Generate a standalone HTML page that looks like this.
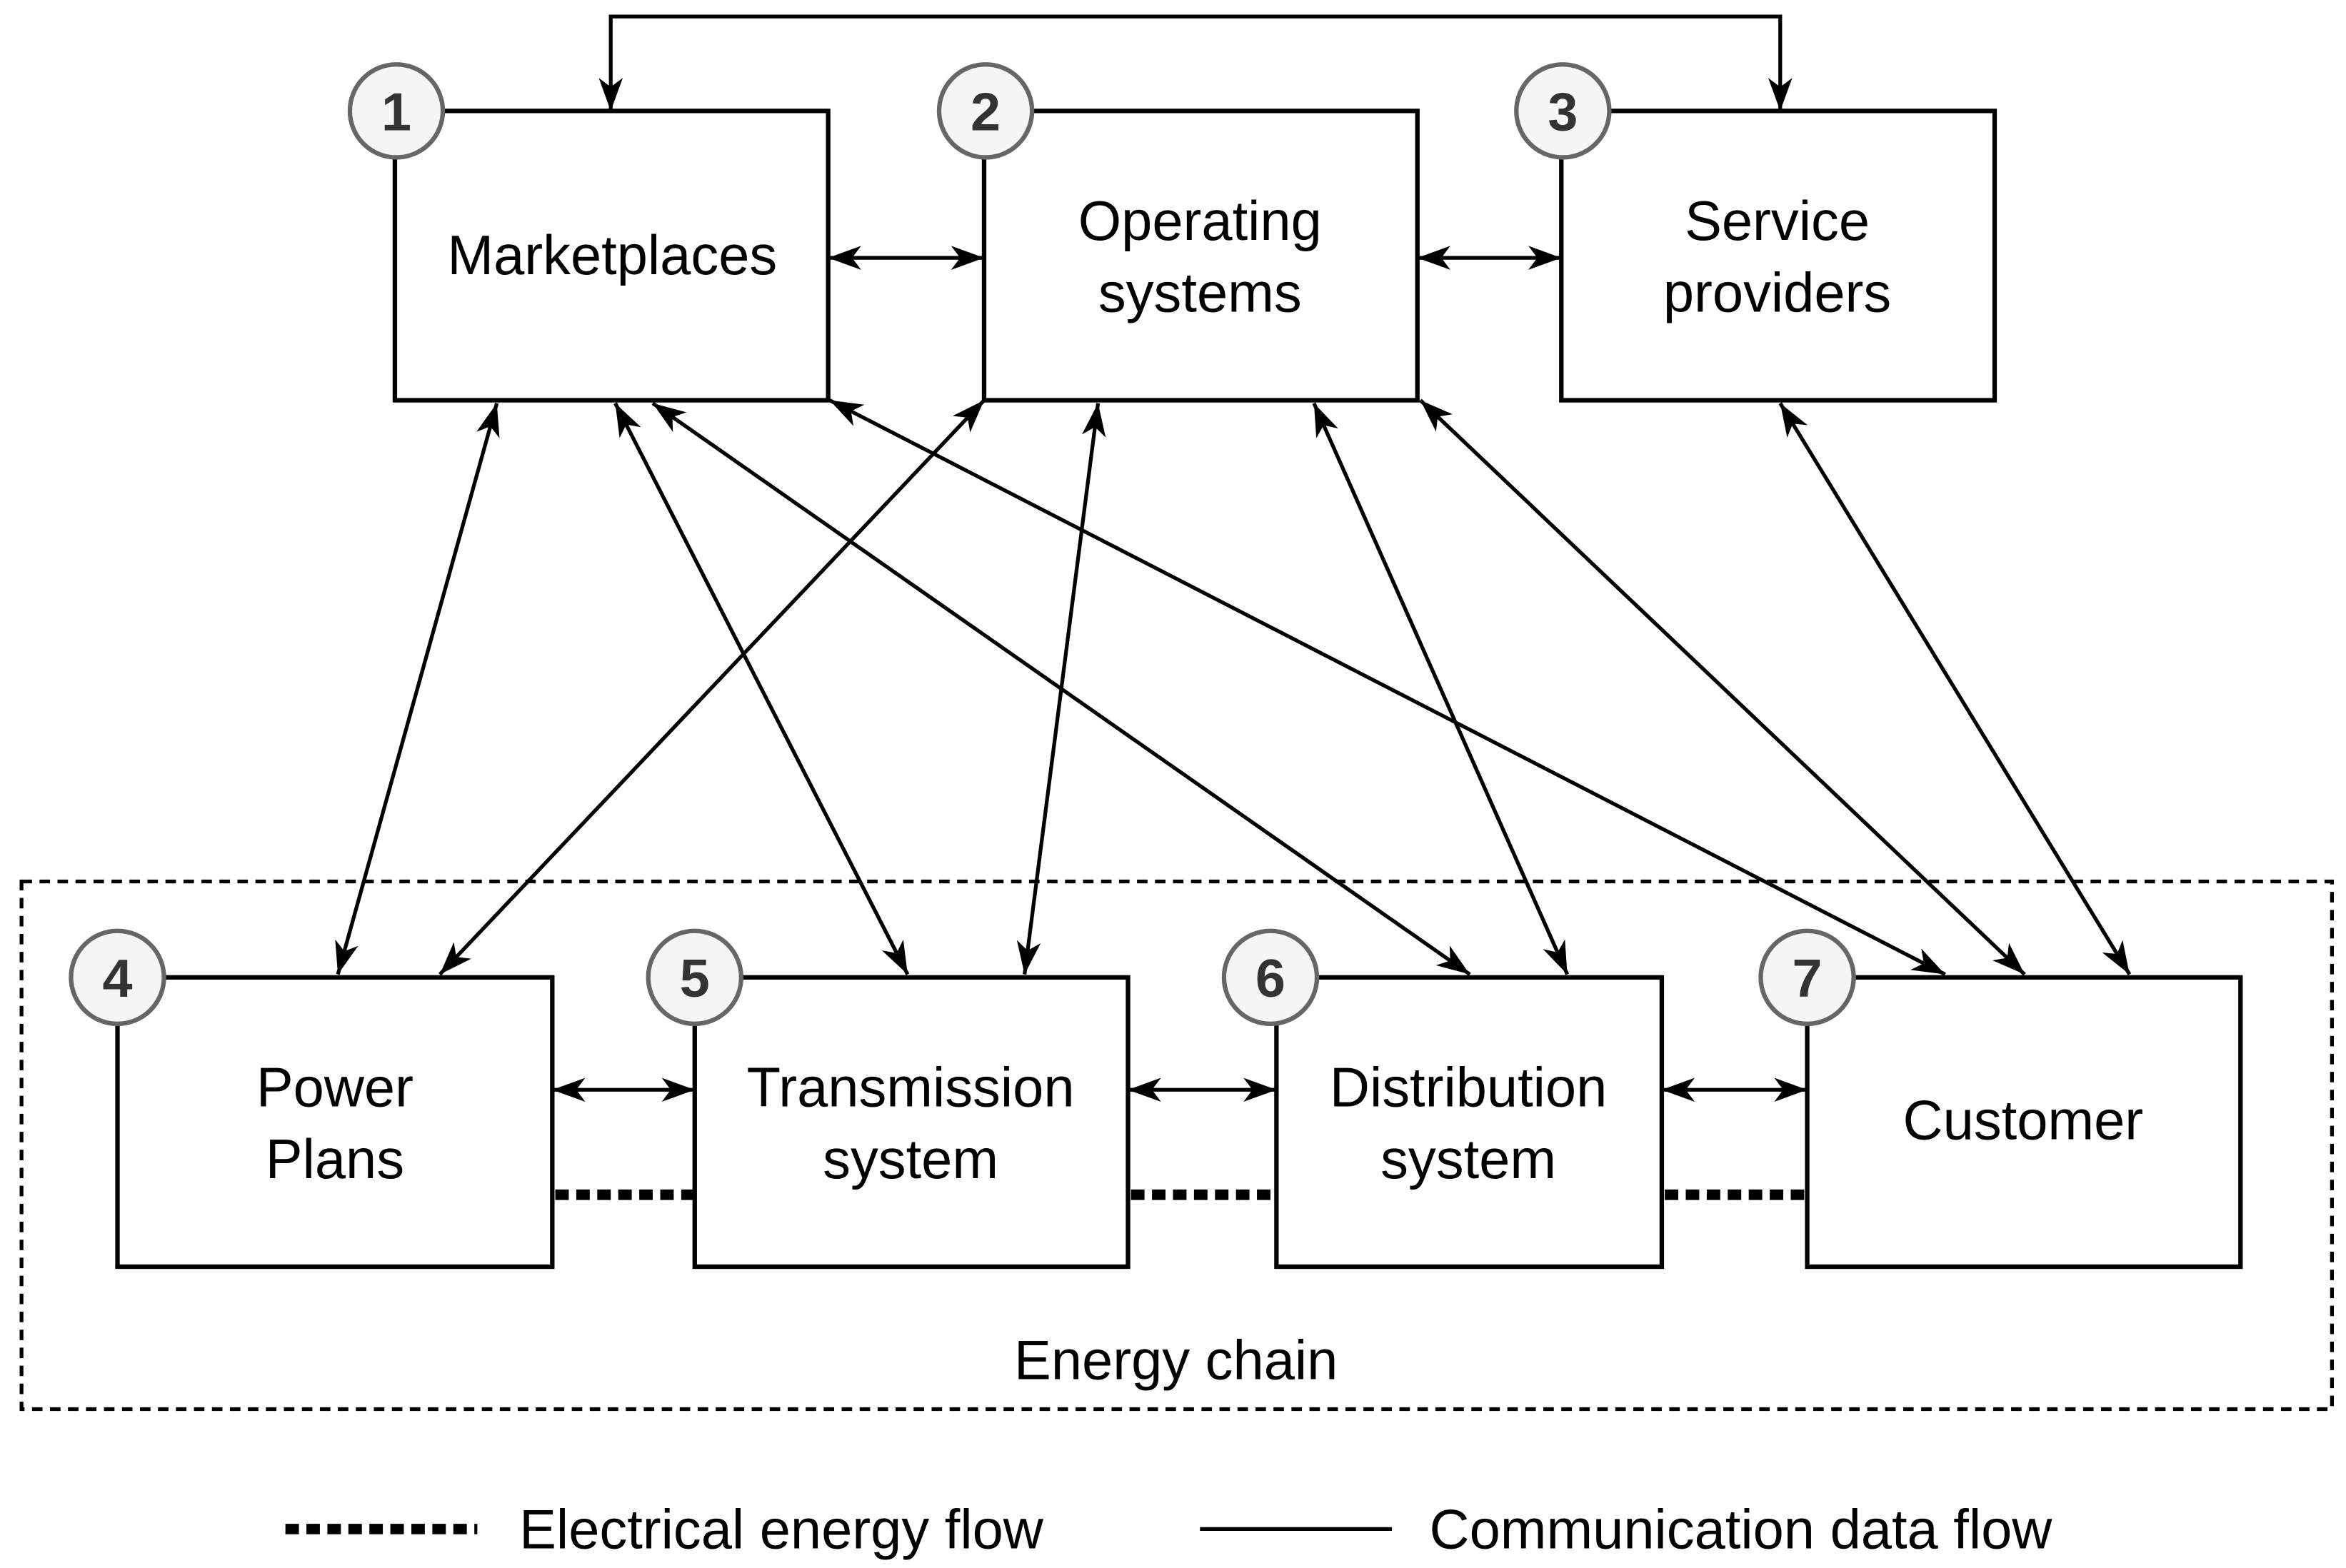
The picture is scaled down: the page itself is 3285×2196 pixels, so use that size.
<!DOCTYPE html>
<html><head><style>html,body{margin:0;padding:0;background:#fff}svg{display:block}</style></head>
<body>
<svg width="3285" height="2196" viewBox="0 0 1564 1046" xmlns="http://www.w3.org/2000/svg" font-family="Liberation Sans, Arial, sans-serif">
<defs>
<marker id="a" viewBox="0 0 22 16" refX="22" refY="8" markerWidth="22" markerHeight="16" markerUnits="userSpaceOnUse" orient="auto-start-reverse">
<path d="M0,0 L22,8 L0,16 L6,8 Z" fill="#000"/>
</marker>
</defs>
<rect x="14" y="588" width="1541" height="352" fill="none" stroke="#000" stroke-width="2.5" stroke-dasharray="7,5"/>
<g fill="#fff" stroke="#000" stroke-width="3">
<rect x="263" y="74" width="289" height="193"/>
<rect x="656" y="74" width="289" height="193"/>
<rect x="1041" y="74" width="289" height="193"/>
<rect x="78" y="652" width="290" height="193"/>
<rect x="463" y="652" width="289" height="193"/>
<rect x="851" y="652" width="257" height="193"/>
<rect x="1205" y="652" width="289" height="193"/>
</g>
<g stroke="#000" stroke-width="2.5" fill="none" marker-start="url(#a)" marker-end="url(#a)">
<path d="M407,74 V11 H1187 V74"/>
<line x1="552" y1="172" x2="656" y2="172"/>
<line x1="945" y1="172" x2="1041" y2="172"/>
<line x1="368" y1="727" x2="463" y2="727"/>
<line x1="752" y1="727" x2="851" y2="727"/>
<line x1="1108" y1="727" x2="1205" y2="727"/>
<line x1="331" y1="269" x2="225" y2="650"/>
<line x1="410" y1="269" x2="605" y2="650"/>
<line x1="435" y1="269" x2="980" y2="650"/>
<line x1="553" y1="267" x2="1297" y2="650"/>
<line x1="656" y1="267" x2="293" y2="650"/>
<line x1="732" y1="269" x2="683" y2="650"/>
<line x1="876" y1="269" x2="1045" y2="650"/>
<line x1="947" y1="267" x2="1350" y2="650"/>
<line x1="1187" y1="269" x2="1420" y2="650"/>
</g>
<g stroke="#000" stroke-width="7" stroke-dasharray="9,5">
<line x1="370" y1="797" x2="462" y2="797"/>
<line x1="754" y1="797" x2="850" y2="797"/>
<line x1="1110" y1="797" x2="1204" y2="797"/>
<line x1="190" y1="1020" x2="318" y2="1020"/>
</g>
<line x1="800" y1="1020" x2="928" y2="1020" stroke="#000" stroke-width="2.5"/>
<g fill="#f5f5f5" stroke="#666" stroke-width="3">
<circle cx="264" cy="74" r="31"/><circle cx="657" cy="74" r="31"/><circle cx="1042" cy="74" r="31"/>
<circle cx="78" cy="652" r="31"/><circle cx="463" cy="652" r="31"/><circle cx="847" cy="652" r="31"/><circle cx="1205" cy="652" r="31"/>
</g>
<g font-size="36" font-weight="bold" fill="#333" text-anchor="middle">
<text x="264" y="87">1</text><text x="657" y="87">2</text><text x="1042" y="87">3</text>
<text x="78" y="665">4</text><text x="463" y="665">5</text><text x="847" y="665">6</text><text x="1205" y="665">7</text>
</g>
<g font-size="37" fill="#000" text-anchor="middle">
<text x="408" y="183">Marketplaces</text>
<text x="800" y="160">Operating</text><text x="800" y="208">systems</text>
<text x="1185" y="160">Service</text><text x="1185" y="208">providers</text>
<text x="223" y="738">Power</text><text x="223" y="786">Plans</text>
<text x="607" y="738">Transmission</text><text x="607" y="786">system</text>
<text x="979" y="738">Distribution</text><text x="979" y="786">system</text>
<text x="1349" y="760">Customer</text>
<text x="784" y="920">Energy chain</text>
</g>
<g font-size="37" fill="#000">
<text x="346" y="1033">Electrical energy flow</text>
<text x="953" y="1033">Communication data flow</text>
</g>
</svg>
</body></html>
